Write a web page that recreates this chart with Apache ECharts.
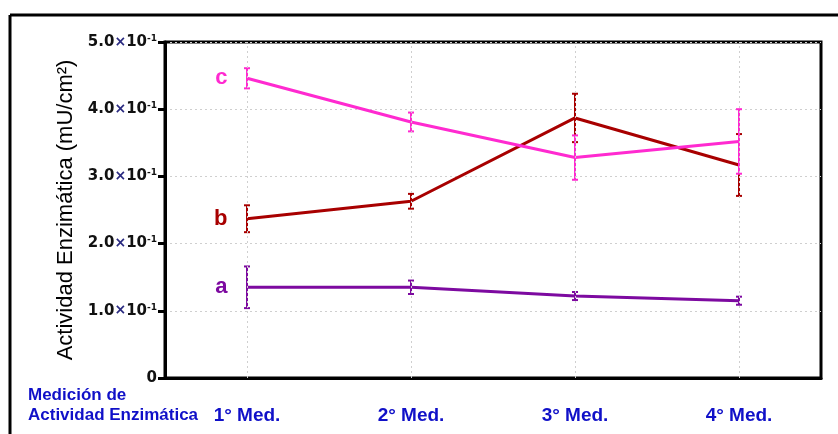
<!DOCTYPE html>
<html>
<head>
<meta charset="utf-8">
<script src="https://cdn.jsdelivr.net/npm/echarts@6/dist/echarts.min.js"></script>
<style>
  html, body { margin: 0; padding: 0; background: #fff; }
  #chart { width: 838px; height: 434px; }
</style>
</head>
<body>
<div id="chart"></div>
<script>
// Measurement rounds
const categories = ['1° Med.', '2° Med.', '3° Med.', '4° Med.'];

// Enzyme activity means (mU/cm²) for each group
const seriesA = [0.135, 0.135, 0.122, 0.115];
const seriesB = [0.237, 0.263, 0.387, 0.317];
const seriesC = [0.446, 0.381, 0.328, 0.352];

// Error half-widths (± around the mean)
const errA = [0.031, 0.010, 0.006, 0.006];
const errB = [0.020, 0.011, 0.036, 0.046];
const errC = [0.015, 0.014, 0.033, 0.048];

// Y-axis tick label mantissas (×10⁻¹)
const yTickLabels = {
  0: '0',
  0.1: '1.0',
  0.2: '2.0',
  0.3: '3.0',
  0.4: '4.0',
  0.5: '5.0'
};

const groups = [
  { name: 'a', values: seriesA, err: errA, color: '#7d0aa0' },
  { name: 'b', values: seriesB, err: errB, color: '#a80000' },
  { name: 'c', values: seriesC, err: errC, color: '#ff2ad0' }
];

const FONT = 'Liberation Sans, Arial, sans-serif';
const WIDE = 'DejaVu Sans, Verdana, sans-serif';
const BLUE = '#1010c8';

function errorBarSeries(g) {
  return {
    type: 'custom',
    name: g.name + '-err',
    z: 4,
    data: g.values.map((v, i) => [i, v - g.err[i], v + g.err[i]]),
    renderItem: function (params, api) {
      const x = api.coord([api.value(0), 0])[0];
      const lo = api.coord([api.value(0), api.value(1)])[1];
      const hi = api.coord([api.value(0), api.value(2)])[1];
      const cap = 3;
      const style = { stroke: g.color, lineWidth: 2 };
      return {
        type: 'group',
        children: [
          { type: 'line', shape: { x1: x, y1: lo, x2: x, y2: hi }, style: style },
          { type: 'line', shape: { x1: x - cap, y1: lo, x2: x + cap, y2: lo }, style: style },
          { type: 'line', shape: { x1: x - cap, y1: hi, x2: x + cap, y2: hi }, style: style }
        ]
      };
    }
  };
}

function lineSeries(g) {
  return {
    type: 'line',
    name: g.name,
    z: 3,
    symbol: 'none',
    lineStyle: { color: g.color, width: 3 },
    itemStyle: { color: g.color },
    data: g.values.map((v, i) => i === 0 ? {
      value: v,
      symbol: 'circle',
      symbolSize: 1,
      label: {
        show: true,
        position: 'left',
        distance: 19,
        formatter: g.name,
        color: g.color,
        fontFamily: FONT,
        fontWeight: 'bold',
        fontSize: 22
      }
    } : v)
  };
}

const chart = echarts.init(document.getElementById('chart'), null, { renderer: 'canvas' });

const series = [];
groups.forEach(g => { series.push(lineSeries(g)); series.push(errorBarSeries(g)); });

// Vertical dotted guides at each measurement
series.push({
  type: 'line',
  data: [],
  silent: true,
  markLine: {
    silent: true,
    symbol: ['none', 'none'],
    label: { show: false },
    lineStyle: { type: [2, 3], color: '#cfcfcf', width: 1 },
    data: categories.map(c => ({ xAxis: c }))
  }
});

chart.setOption({
  animation: false,
  backgroundColor: '#fff',
  grid: {
    left: 165, right: 17, top: 42, bottom: 56,
    show: true, borderColor: '#000', borderWidth: 3, backgroundColor: 'transparent'
  },
  xAxis: {
    type: 'category',
    data: categories,
    boundaryGap: true,
    axisLine: { lineStyle: { color: '#000', width: 3 } },
    axisTick: { alignWithLabel: true, length: 7, lineStyle: { color: '#000', width: 2 } },
    axisLabel: {
      margin: 28,
      color: BLUE,
      fontFamily: FONT,
      fontWeight: 'bold',
      fontSize: 19
    },
    splitLine: { show: false }
  },
  yAxis: {
    type: 'value',
    min: 0,
    max: 0.5,
    interval: 0.1,
    name: 'Actividad Enzimática (mU/cm²)',
    nameLocation: 'middle',
    nameGap: 88,
    nameTextStyle: { color: '#000', fontFamily: FONT, fontSize: 22 },
    axisLine: { show: true, lineStyle: { color: '#000', width: 3 } },
    axisTick: { show: true, length: 7, lineStyle: { color: '#000', width: 3 } },
    axisLabel: {
      margin: 8,
      fontFamily: WIDE,
      formatter: function (v) {
        const key = Math.round(v * 10) / 10;
        const m = yTickLabels[key];
        if (key === 0) return '{a|' + m + '}';
        return '{a|' + m + '}{x|×}{a|10}{s|-1}';
      },
      rich: {
        a: { fontFamily: WIDE, fontWeight: 'bold', fontSize: 15, color: '#111' },
        x: { fontFamily: WIDE, fontWeight: 'bold', fontSize: 14, color: '#2a2a80' },
        s: { fontFamily: WIDE, fontWeight: 'bold', fontSize: 9, color: '#111', padding: [0, 0, 7, 0] }
      }
    },
    splitLine: { show: true, lineStyle: { type: [2, 3], color: '#cfcfcf', width: 1 } }
  },
  graphic: [
    { type: 'line', shape: { x1: 10, y1: 15, x2: 838, y2: 15 }, style: { stroke: '#000', lineWidth: 3 } },
    { type: 'line', shape: { x1: 10, y1: 15, x2: 10, y2: 434 }, style: { stroke: '#000', lineWidth: 3 } },
    {
      type: 'text', left: 28, top: 385,
      style: {
        text: 'Medición de\nActividad Enzimática',
        fill: BLUE,
        font: 'bold 17px ' + FONT,
        lineHeight: 20
      }
    }
  ],
  series: series
});
</script>
</body>
</html>
